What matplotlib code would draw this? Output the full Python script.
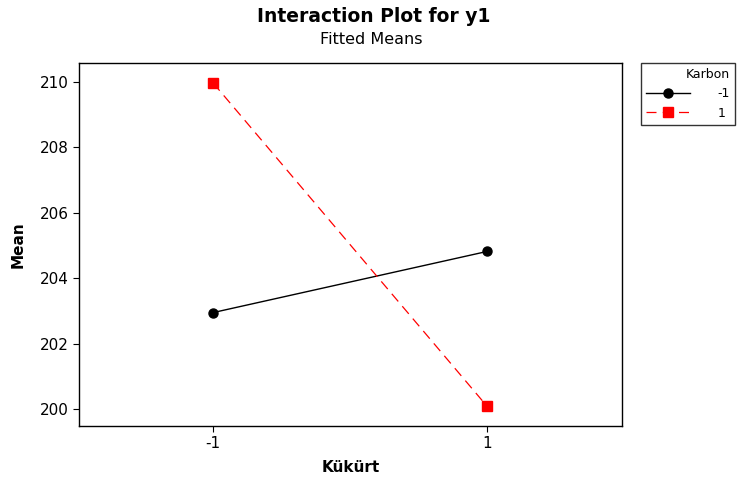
import numpy as np
import matplotlib.pyplot as plt
import matplotlib

matplotlib.rc('font', family='DejaVu Sans', size=11)

kukurt_levels = [-1, 1]
tick_labels = ['-1', '1']
mean_karbon_neg = [202.95, 204.82]
mean_karbon_pos = [209.97, 200.08]

fig = plt.figure(figsize=(7.45, 4.8), dpi=100)
ax = fig.add_axes([0.106, 0.1125, 0.729, 0.756])

ax.plot(kukurt_levels, mean_karbon_neg, color='black', linestyle='-',
        linewidth=1.0, marker='o', markersize=6.5, label='-1')
ax.plot(kukurt_levels, mean_karbon_pos, color='red', linestyle=(0, (8, 5)),
        linewidth=0.9, marker='s', markersize=6.5, label='1')

ax.set_xlim(-1.98, 1.985)
ax.set_ylim(199.48, 210.58)
ax.set_xticks(kukurt_levels)
ax.set_xticklabels(tick_labels)
ax.set_yticks(np.arange(200, 211, 2))
ax.tick_params(direction='out', length=4, labelsize=11)
for sp in ax.spines.values():
    sp.set_linewidth(1.0)

ax.set_xlabel('Kükürt', fontweight='bold', fontsize=11, labelpad=6)
ax.set_ylabel('Mean', fontweight='bold', fontsize=11, labelpad=10)

fig.text(0.502, 0.965, 'Interaction Plot for y1', ha='center', va='center',
         fontsize=13.5, fontweight='bold')
fig.text(0.498, 0.917, 'Fitted Means', ha='center', va='center', fontsize=11.5)

leg = ax.legend(title='Karbon', loc='upper left', bbox_to_anchor=(1.035, 1.0),
                borderaxespad=0, frameon=True, fancybox=False,
                edgecolor='black', fontsize=9, title_fontsize=9,
                handlelength=3.5, handletextpad=2.2, borderpad=0.4)
leg._legend_box.align = 'right'
leg.get_frame().set_linewidth(1.0)

plt.savefig('out.png', dpi=100)
